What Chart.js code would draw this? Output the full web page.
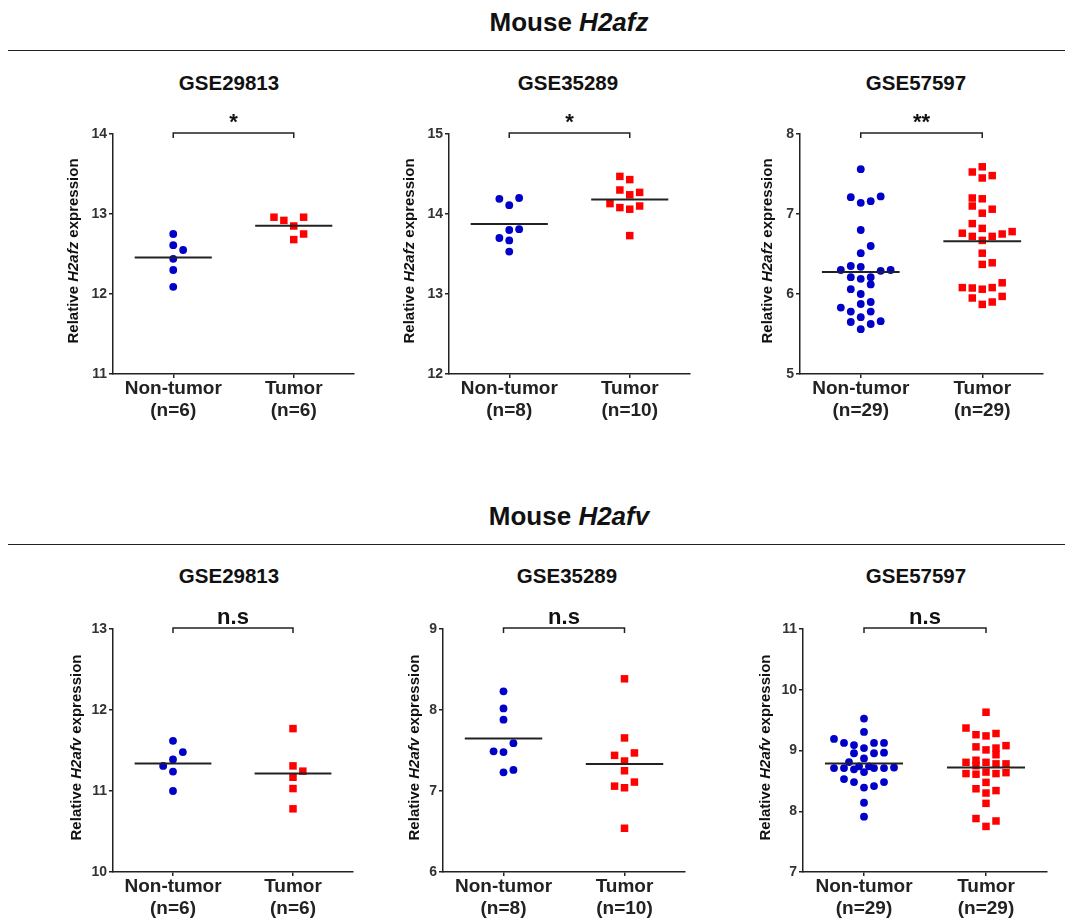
<!DOCTYPE html>
<html>
<head>
<meta charset="utf-8">
<script src="https://cdn.jsdelivr.net/npm/chart.js@4.4.1/dist/chart.umd.min.js"></script>
<style>
body{margin:0;background:#fff;width:1065px;height:922px;position:relative;overflow:hidden;font-family:"Liberation Sans",Arial,sans-serif;color:#111;}
.hdr{position:absolute;left:369px;width:400px;text-align:center;font-weight:bold;font-size:26px;line-height:30px;}
.rule{position:absolute;left:8px;width:1057px;height:0;border-top:1.5px solid #222;}
.sub{position:absolute;width:200px;text-align:center;font-weight:bold;font-size:20.5px;line-height:22px;}
canvas{position:absolute;}
</style>
</head>
<body>

<div class="hdr" style="top:7px">Mouse <i>H2afz</i></div>
<div class="rule" style="top:50px"></div>
<div class="sub" style="left:129px;top:72px">GSE29813</div>
<div class="sub" style="left:468px;top:72px">GSE35289</div>
<div class="sub" style="left:816px;top:72px">GSE57597</div>

<div class="hdr" style="top:501px">Mouse <i>H2afv</i></div>
<div class="rule" style="top:544px"></div>
<div class="sub" style="left:129px;top:565px">GSE29813</div>
<div class="sub" style="left:467px;top:565px">GSE35289</div>
<div class="sub" style="left:816px;top:565px">GSE57597</div>

<canvas id="c1"></canvas>
<canvas id="c2"></canvas>
<canvas id="c3"></canvas>
<canvas id="c4"></canvas>
<canvas id="c5"></canvas>
<canvas id="c6"></canvas>

<script>
// groups
const groups=['Non-tumor','Tumor'];

// Mouse H2afz - GSE29813
const zA_non=[12.75,12.61,12.55,12.44,12.30,12.09];
const zA_nonSlot=[0,0,1,0,0,0];
const zA_tum=[12.96,12.92,12.96,12.85,12.75,12.68];
const zA_tumSlot=[-2,-1,1,0,1,0];

// Mouse H2afz - GSE35289
const zB_non=[14.19,14.20,14.11,13.81,13.80,13.70,13.67,13.53];
const zB_nonSlot=[-1,1,0,1,0,-1,0,0];
const zB_tum=[14.47,14.43,14.30,14.27,14.24,14.13,14.10,14.08,14.06,13.73];
const zB_tumSlot=[-1,0,-1,1,0,-2,1,-1,0,0];

// Mouse H2afz - GSE57597
const zC_non=[7.56,7.21,7.22,7.14,7.16,6.80,6.60,6.51,6.35,6.34,6.30,6.29,6.30,6.21,6.19,6.21,6.12,6.06,6.00,5.875,5.90,5.83,5.78,5.78,5.71,5.65,5.66,5.625,5.56];
const zC_nonSlot=[0,-1,2,0,1,0,1,0,-1,0,-2,2,3,-1,0,1,1,-1,0,0,1,-2,-1,1,0,-1,2,1,0];
const zC_tum=[7.59,7.525,7.48,7.45,7.20,7.19,7.10,7.06,7.01,6.88,6.82,6.76,6.78,6.75,6.72,6.72,6.67,6.51,6.37,6.39,6.14,6.08,6.075,6.06,6.08,5.95,5.97,5.90,5.87];
const zC_tumSlot=[0,-1,1,0,-1,0,-1,1,0,-1,0,-2,3,2,-1,1,0,0,0,1,2,-2,-1,0,1,-1,2,1,0];

// Mouse H2afv - GSE29813
const vA_non=[11.62,11.48,11.39,11.31,11.24,11.00];
const vA_nonSlot=[0,1,0,-1,0,0];
const vA_tum=[11.77,11.31,11.245,11.17,11.03,10.78];
const vA_tumSlot=[0,0,1,0,0,0];

// Mouse H2afv - GSE35289
const vB_non=[8.23,8.02,7.88,7.59,7.49,7.48,7.26,7.23];
const vB_nonSlot=[0,0,0,1,-1,0,1,0];
const vB_tum=[8.385,7.655,7.44,7.47,7.37,7.25,7.11,7.06,7.04,6.54];
const vB_tumSlot=[0,0,-1,1,0,0,1,-1,0,0];

// Mouse H2afv - GSE57597
const vC_non=[9.525,9.305,9.19,9.125,9.125,9.125,9.09,9.04,8.955,8.955,8.965,8.87,8.81,8.71,8.71,8.69,8.74,8.74,8.71,8.71,8.72,8.645,8.53,8.48,8.39,8.415,8.48,8.14,7.91];
const vC_nonSlot=[0,0,-3,-2,1,2,-1,0,-1,1,2,0,-1.5,-3,-2,-1,-0.5,0.5,1,2,3,0,-2,-1,0,1,2,0,0];
const vC_tum=[9.63,9.37,9.26,9.24,9.28,9.06,9.08,9.01,9.04,8.93,8.84,8.805,8.805,8.78,8.78,8.75,8.62,8.61,8.645,8.62,8.635,8.475,8.37,8.30,8.34,8.13,7.88,7.84,7.75];
const vC_tumSlot=[0,-2,-1,0,1,-1,2,0,1,1,-1,-2,0,1,2,-1,-2,-1,0,1,2,0,-1,0,1,0,-1,1,0];

// y axis ticks per panel
const ticksZA=[11,12,13,14];
const ticksZB=[12,13,14,15];
const ticksZC=[5,6,7,8];
const ticksVA=[10,11,12,13];
const ticksVB=[6,7,8,9];
const ticksVC=[7,8,9,10,11];

const sigTop=['*','*','**'];
const sigBottom=['n.s','n.s','n.s'];

const SLOT=0.082;
const FONT='"Liberation Sans", Arial, sans-serif';
const AX='#222';

Chart.defaults.font.family=FONT;
Chart.defaults.devicePixelRatio=1;

function mean(a){return a.reduce((s,v)=>s+v,0)/a.length;}
function pts(vals,slots,c){return vals.map((v,i)=>({x:c+slots[i]*SLOT,y:v}));}

function makePanel(p){
const padL=75,padT=40,padR=15;
const cv=document.getElementById(p.id);
const w=(p.R-p.L)+padL+padR;
const h=(p.B-p.T)+padT+p.xh;
cv.width=w;cv.height=h;
cv.style.left=(p.L-padL)+'px';
cv.style.top=(p.T-padT)+'px';
cv.style.width=w+'px';cv.style.height=h+'px';

const m1=mean(p.non),m2=mean(p.tum);

const annot={
id:'annot',
afterDraw(chart){
const ctx=chart.ctx,xs=chart.scales.x,a=chart.chartArea;
const x1=xs.getPixelForValue(1),x2=xs.getPixelForValue(2);
const by=a.top-1;
ctx.save();
ctx.strokeStyle=AX;ctx.lineWidth=1.5;
ctx.beginPath();
ctx.moveTo(x1,by+5);ctx.lineTo(x1,by);ctx.lineTo(x2,by);ctx.lineTo(x2,by+5);
ctx.stroke();
ctx.fillStyle='#111';
ctx.font='bold 22px '+FONT;
ctx.textAlign='center';ctx.textBaseline='alphabetic';
ctx.fillText(p.sig,(x1+x2)/2,by-4);

// y axis title with italic gene name
const parts=[['Relative ',false],[p.gene,true],[' expression',false]];
const fn=it=>(it?'italic ':'')+'bold 15px '+FONT;
let tot=0;
parts.forEach(q=>{ctx.font=fn(q[1]);tot+=ctx.measureText(q[0]).width;});
ctx.translate(a.left-p.tx,(a.top+a.bottom)/2-3);
ctx.rotate(-Math.PI/2);
ctx.textAlign='left';ctx.textBaseline='middle';
let cx=-tot/2;
parts.forEach(q=>{ctx.font=fn(q[1]);ctx.fillText(q[0],cx,0);cx+=ctx.measureText(q[0]).width;});
ctx.restore();
}
};

new Chart(cv,{
type:'scatter',
data:{
datasets:[
{type:'line',data:[{x:1-0.32,y:m1},{x:1+0.32,y:m1}],borderColor:AX,borderWidth:2,pointRadius:0,order:0},
{type:'line',data:[{x:2-0.32,y:m2},{x:2+0.32,y:m2}],borderColor:AX,borderWidth:2,pointRadius:0,order:0},
{label:groups[0],data:pts(p.non,p.nonSlot,1),pointStyle:'circle',pointRadius:3.9,backgroundColor:'#0000c8',borderWidth:0,order:1},
{label:groups[1],data:pts(p.tum,p.tumSlot,2),pointStyle:'rect',pointRadius:5.3,backgroundColor:'#ff0000',borderWidth:0,order:1}
]
},
options:{
responsive:false,
animation:false,
events:[],
layout:{padding:{top:padT,right:padR,left:0,bottom:0}},
plugins:{legend:{display:false},tooltip:{enabled:false}},
scales:{
x:{
type:'linear',min:0.5,max:2.5,
afterBuildTicks(s){s.ticks=[{value:1},{value:2}];},
afterFit(s){s.height=p.xh;},
grid:{drawOnChartArea:false,drawTicks:true,tickLength:4,color:AX,lineWidth:1.5},
border:{display:true,color:AX,width:1.5},
ticks:{
autoSkip:false,maxRotation:0,padding:0,color:'#222',
font:{size:19,weight:'bold',lineHeight:1.15},
callback(v){
if(v===1)return[groups[0],'(n='+p.non.length+')'];
if(v===2)return[groups[1],'(n='+p.tum.length+')'];
return '';
}
}
},
y:{
min:p.ticks[0],max:p.ticks[p.ticks.length-1],
afterBuildTicks(s){s.ticks=p.ticks.map(v=>({value:v}));},
afterFit(s){s.width=padL;},
grid:{drawOnChartArea:false,drawTicks:true,tickLength:4,color:AX,lineWidth:1.5},
border:{display:true,color:AX,width:1.5},
ticks:{padding:2,color:'#333',font:{size:14,weight:'bold'}}
}
}
},
plugins:[annot]
});
}

const panels=[
{id:'c1',gene:'H2afz',non:zA_non,nonSlot:zA_nonSlot,tum:zA_tum,tumSlot:zA_tumSlot,ticks:ticksZA,sig:sigTop[0],L:113,T:134,R:354,B:374,xh:56,tx:39},
{id:'c2',gene:'H2afz',non:zB_non,nonSlot:zB_nonSlot,tum:zB_tum,tumSlot:zB_tumSlot,ticks:ticksZB,sig:sigTop[1],L:449,T:134,R:690,B:374,xh:56,tx:39},
{id:'c3',gene:'H2afz',non:zC_non,nonSlot:zC_nonSlot,tum:zC_tum,tumSlot:zC_tumSlot,ticks:ticksZC,sig:sigTop[2],L:800,T:134,R:1043,B:374,xh:56,tx:32},
{id:'c4',gene:'H2afv',non:vA_non,nonSlot:vA_nonSlot,tum:vA_tum,tumSlot:vA_tumSlot,ticks:ticksVA,sig:sigBottom[0],L:113,T:629,R:353,B:872,xh:49,tx:36},
{id:'c5',gene:'H2afv',non:vB_non,nonSlot:vB_nonSlot,tum:vB_tum,tumSlot:vB_tumSlot,ticks:ticksVB,sig:sigBottom[1],L:443,T:629,R:685,B:872,xh:49,tx:28},
{id:'c6',gene:'H2afv',non:vC_non,nonSlot:vC_nonSlot,tum:vC_tum,tumSlot:vC_tumSlot,ticks:ticksVC,sig:sigBottom[2],L:803,T:629,R:1047,B:872,xh:49,tx:37}
];

panels.forEach(makePanel);
</script>
</body>
</html>
